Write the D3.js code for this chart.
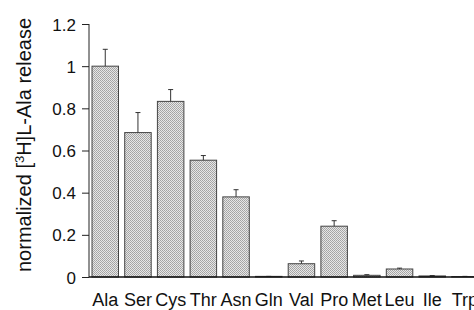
<!DOCTYPE html>
<html lang="en">
<head>
<meta charset="UTF-8">
<title>normalized L-Ala release</title>
<script src="https://d3js.org/d3.v7.min.js"></script>
<style>
  body { margin: 0; background: #fff; }
  text { font-family: "Liberation Sans", Arial, sans-serif; fill: #111; }
</style>
</head>
<body>
<div id="chart"></div>
<script>
var aminoAcids = ["Ala", "Ser", "Cys", "Thr", "Asn", "Gln", "Val", "Pro", "Met", "Leu", "Ile", "Trp"];
var release = [1.0, 0.685, 0.833, 0.554, 0.38, 0.003, 0.063, 0.241, 0.008, 0.038, 0.005, 0.002];
var releaseErr = [0.08, 0.095, 0.056, 0.022, 0.034, 0, 0.013, 0.026, 0.003, 0.004, 0.002, 0.001];
var yTicks = [0, 0.2, 0.4, 0.6, 0.8, 1, 1.2];

var width = 474, height = 310;
var svg = d3.select("#chart").append("svg")
    .attr("width", width)
    .attr("height", height);

// stippled grey fill like the scanned figure
var pat = svg.append("defs").append("pattern")
    .attr("id", "stipple")
    .attr("patternUnits", "userSpaceOnUse")
    .attr("width", 2).attr("height", 2);
pat.append("rect").attr("width", 2).attr("height", 2).attr("fill", "#e6e6e6");
pat.append("rect").attr("width", 1).attr("height", 1).attr("fill", "#a2a2a2");
pat.append("rect").attr("x", 1).attr("y", 1).attr("width", 1).attr("height", 1).attr("fill", "#aaaaaa");

var x = d3.scaleBand()
    .domain(aminoAcids)
    .range([89, 481.2])
    .paddingInner(0.19)
    .paddingOuter(0.092);

var y = d3.scaleLinear()
    .domain([0, 1.2])
    .range([277, 24]);

// bars
svg.selectAll(".bar")
    .data(aminoAcids)
  .enter().append("rect")
    .attr("class", "bar")
    .attr("x", function(d) { return x(d); })
    .attr("y", function(d, i) { return y(release[i]); })
    .attr("width", x.bandwidth())
    .attr("height", function(d, i) { return y(0) - y(release[i]); })
    .attr("fill", "url(#stipple)")
    .attr("stroke", "#444")
    .attr("stroke-width", 1);

// error bars (upper only)
var err = svg.selectAll(".err")
    .data(aminoAcids)
  .enter().append("g")
    .attr("class", "err")
    .attr("stroke", "#333")
    .attr("stroke-width", 1);

err.append("line")
    .attr("x1", function(d) { return x(d) + x.bandwidth() / 2; })
    .attr("x2", function(d) { return x(d) + x.bandwidth() / 2; })
    .attr("y1", function(d, i) { return y(release[i]); })
    .attr("y2", function(d, i) { return y(release[i] + releaseErr[i]); });

err.append("line")
    .attr("x1", function(d) { return x(d) + x.bandwidth() / 2 - 2.5; })
    .attr("x2", function(d) { return x(d) + x.bandwidth() / 2 + 2.5; })
    .attr("y1", function(d, i) { return y(release[i] + releaseErr[i]); })
    .attr("y2", function(d, i) { return y(release[i] + releaseErr[i]); });

// y axis
var yAxis = svg.append("g")
    .attr("transform", "translate(89,0)")
    .call(d3.axisLeft(y).tickValues(yTicks).tickSize(7).tickPadding(6)
      .tickFormat(function(d) { return d3.format("~g")(d); }));
yAxis.select(".domain").attr("d", "M0," + y(1.2) + "V" + y(0)).attr("stroke", "#222");
yAxis.selectAll(".tick line").attr("stroke", "#222");
yAxis.selectAll("text")
    .style("font-family", "'Liberation Sans', Arial, sans-serif")
    .style("font-size", "17px")
    .attr("dy", "0.36em")
    .attr("fill", "#111");

// x baseline
svg.append("line")
    .attr("x1", 89).attr("x2", width)
    .attr("y1", y(0)).attr("y2", y(0))
    .attr("stroke", "#111")
    .attr("stroke-width", 1.5);

// x labels
svg.selectAll(".xlab")
    .data(aminoAcids)
  .enter().append("text")
    .attr("class", "xlab")
    .attr("x", function(d) { return x(d) + x.bandwidth() / 2; })
    .attr("y", 306)
    .attr("text-anchor", "middle")
    .style("font-size", "18px")
    .text(function(d) { return d; });

// y label
var ylab = svg.append("text")
    .attr("transform", "translate(31,145) rotate(-90)")
    .attr("text-anchor", "middle")
    .style("font-size", "20px");
ylab.append("tspan").text("normalized [");
ylab.append("tspan").attr("dy", -7).style("font-size", "13px").text("3");
ylab.append("tspan").attr("dy", 7).text("H]L-Ala release");
</script>
</body>
</html>
